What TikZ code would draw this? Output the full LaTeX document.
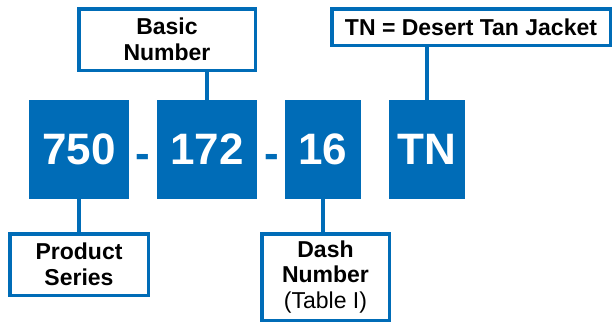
\documentclass[tikz,border=0pt]{standalone}
\usepackage{fontspec}
\setmainfont{Liberation Sans}
\definecolor{partblue}{HTML}{006CB7}
\newcommand{\lw}{3.5pt}

\begin{document}
\begin{tikzpicture}[x=1pt,y=-1pt,
    numbox/.style={fill=partblue, text=white, rectangle, minimum height=99pt, inner sep=0pt, font=\fontsize{44}{48}\selectfont\bfseries},
    labelbox/.style={draw=partblue, line width=\lw, fill=white, rectangle, align=center, inner sep=0pt, font=\fontsize{23}{25.5}\selectfont\bfseries},
    hyphen/.style={text=partblue, inner sep=0pt, font=\fontsize{44}{48}\selectfont\bfseries},
    link/.style={draw=partblue, line width=\lw}]
    \useasboundingbox (0,0) rectangle (613,324);

    % Part number blocks
    \node[numbox, minimum width=100pt] (num750) at (79,149.5) {750};
    \node[hyphen] (dash1) at (143,161) {-};
    \node[numbox, minimum width=100pt] (num172) at (207,149.5) {172};
    \node[hyphen] (dash2) at (272,161) {-};
    \node[numbox, minimum width=76pt] (num16) at (323,149.5) {16};
    \node[numbox, minimum width=76pt] (numTN) at (427,149.5) {TN};

    % Labels
    \node[labelbox, minimum width=176.5pt, minimum height=61.5pt] (basic) at (167,39.5) {Basic\\Number};
    \node[labelbox, minimum width=278.5pt, minimum height=36.5pt] (jacket) at (471,27) {TN = Desert Tan Jacket};
    \node[labelbox, minimum width=138.5pt, minimum height=61.5pt] (series) at (79,264.5) {Product\\Series};
    \node[labelbox, minimum width=127.5pt, minimum height=86.5pt] (dashno) at (325.5,277) {Dash\\Number\\{\mdseries(Table I)}};

    % Connectors
    \draw[link] (num172.north) -- (num172.north |- basic.south);
    \draw[link] (numTN.north) -- (numTN.north |- jacket.south);
    \draw[link] (num750.south) -- (series.north);
    \draw[link] (num16.south) -- (num16.south |- dashno.north);

\end{tikzpicture}
\end{document}
